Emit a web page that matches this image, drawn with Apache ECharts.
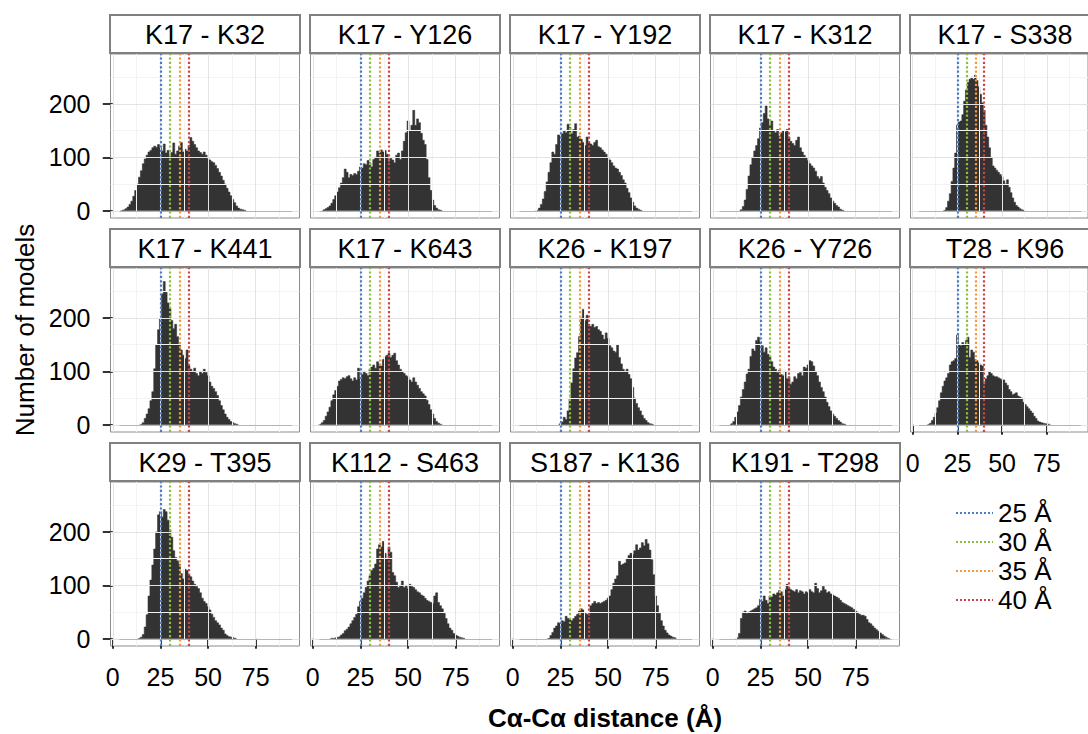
<!DOCTYPE html>
<html><head><meta charset="utf-8">
<script src="https://cdn.jsdelivr.net/npm/echarts@6/dist/echarts.min.js"></script>
<style>html,body{margin:0;padding:0;background:#fff}#c{width:1088px;height:734px}</style>
</head><body><div id="c"></div>
<script>
const FONT = '"Liberation Sans", Arial, Helvetica, sans-serif';

// ---------------- data ----------------
const panelTitles = ['K17 - K32','K17 - Y126','K17 - Y192','K17 - K312','K17 - S338',
  'K17 - K441','K17 - K643','K26 - K197','K26 - Y726','T28 - K96',
  'K29 - T395','K112 - S463','S187 - K136','K191 - T298'];
// centre (Å) of the first listed 1-Å bin for every panel
const firstBin = [5,6,13,15,18,15,4,25,10,9,14,10,19,13];

const countsK17_K32 = [1,2,4,7,12,18,27,38,50,63,75,88,97,104,110,113,118,121,119,124,118,112,125,108,113,101,109,127,106,112,121,128,110,115,112,122,137,130,124,118,112,109,106,110,104,98,95,92,90,85,79,72,65,57,50,42,35,28,21,15,9,5,3,2,1];
const countsK17_Y126 = [2,4,6,9,14,21,28,35,43,52,62,78,72,62,68,66,70,68,74,82,80,88,86,94,90,82,96,100,112,108,114,110,113,106,92,98,95,90,104,108,96,112,130,146,168,150,160,188,160,172,165,145,132,124,96,62,38,20,10,5,2,1];
const countsK17_Y192 = [1,5,12,22,36,54,72,90,110,106,124,142,140,144,150,146,162,156,144,152,163,138,140,134,128,122,138,128,125,122,128,132,120,118,114,110,106,100,95,90,84,80,78,72,66,58,52,42,34,24,16,9,5,3,1];
const countsK17_K312 = [2,8,20,40,65,86,100,112,122,135,155,165,182,196,172,160,168,150,146,152,140,146,150,148,152,138,130,126,122,132,138,118,110,104,100,94,88,84,80,74,64,60,64,52,44,38,32,24,18,14,10,7,3,1];
const countsK17_S338 = [1,6,18,32,55,80,108,160,166,168,180,205,226,240,246,250,246,254,244,232,218,202,188,160,138,118,100,84,80,76,72,68,64,56,50,58,44,34,24,16,10,7,4,2,1];
const countsK17_K441 = [1,4,12,20,30,45,62,105,150,178,198,245,268,248,228,218,195,180,188,165,150,140,130,124,140,110,104,100,106,96,92,100,96,104,98,92,80,72,68,62,55,45,36,28,20,14,10,6,4,2,1];
const countsK17_K643 = [1,4,8,16,24,33,45,56,64,72,82,85,88,86,90,92,86,82,88,84,106,86,94,100,96,92,104,108,112,106,118,114,110,122,128,130,134,126,130,134,120,112,104,100,96,92,90,84,80,88,80,74,68,62,58,54,46,38,28,20,12,6,3,1];
const countsK26_K197 = [2,5,14,10,26,50,78,105,125,135,165,200,216,195,205,188,184,188,182,184,178,175,168,160,172,162,148,144,138,136,150,126,114,104,100,104,94,86,70,50,40,32,26,18,12,8,4,2,1];
const countsK26_Y726 = [2,6,14,24,36,52,66,80,95,104,128,142,138,158,164,156,148,136,144,132,128,118,108,104,98,102,94,92,100,86,90,76,80,90,86,96,98,92,108,106,112,120,118,110,100,92,80,70,62,52,42,34,26,20,16,12,8,5,2,1];
const countsT28_K96 = [1,3,8,14,22,32,45,60,72,82,88,96,112,118,120,124,168,150,148,154,150,158,164,126,140,136,122,120,116,112,110,76,86,92,100,96,92,90,90,88,86,84,84,78,74,66,62,56,58,60,54,52,50,42,38,34,30,26,22,16,12,7,5,4,3,2,2,1];
const countsK29_T395 = [1,3,8,22,45,80,110,138,168,200,232,238,228,242,238,222,204,190,165,152,146,140,122,112,130,128,120,116,108,102,98,94,86,76,70,66,60,54,46,40,34,30,26,20,16,9,6,4,3,2,1];
const countsK112_S463 = [1,1,2,3,4,7,10,15,18,22,28,34,40,46,60,70,76,86,96,108,118,128,132,140,168,176,172,182,160,150,172,162,124,118,106,96,100,108,96,100,94,102,98,96,92,88,86,82,80,76,72,70,68,66,80,86,68,62,56,48,38,28,20,16,10,7,5,3,2,1];
const countsS187_K136 = [1,6,12,20,24,30,28,34,32,42,38,36,34,38,42,46,52,56,54,48,46,44,62,66,70,66,68,66,68,70,72,76,80,92,104,112,118,145,138,140,142,150,156,160,158,165,176,166,170,180,174,186,178,166,148,120,80,62,48,34,24,16,11,7,5,3,2];
const countsK191_T298 = [2,10,38,50,52,48,50,52,54,56,58,62,74,70,80,72,66,80,78,84,82,86,90,88,80,92,102,96,92,90,88,92,86,90,88,84,88,86,92,88,86,104,94,86,90,98,92,86,88,84,82,80,78,76,72,68,66,64,62,60,58,55,52,50,46,44,44,42,36,30,28,24,20,17,14,11,8,5,3,1];

const panelCounts = [countsK17_K32,countsK17_Y126,countsK17_Y192,countsK17_K312,countsK17_S338,
  countsK17_K441,countsK17_K643,countsK26_K197,countsK26_Y726,countsT28_K96,
  countsK29_T395,countsK112_S463,countsS187_K136,countsK191_T298];

const thresholds = [25, 30, 35, 40];
const thresholdNames = ['25 Å', '30 Å', '35 Å', '40 Å'];
const xTicks = [0, 25, 50, 75];
const xMinorTicks = [12.5, 37.5, 62.5, 87.5];
const yTicks = [0, 100, 200];
const yMinorTicks = [50, 150, 250];
const xRange = [-1.2, 98];
const yRange = [-13.5, 293.5];
const binWidth = 1;
const baselineRange = [3.5, 94];

// ---------------- style / layout ----------------
const thresholdColors = ['#4a7cc3', '#8cbf3f', '#f59a3a', '#cc4444'];
const NCOL = 5, PANEL_W = 189, PANEL_H = 164, COL_STEP = 200, ROW_STEP = 214;
const LEFT0 = 110.5, STRIP_TOP0 = 15, STRIP_H = 38;
const MAJOR = '#e3e3e3', MINOR = '#f3f3f3';

const grids = [], xAxes = [], yAxes = [], series = [], graphics = [];

panelTitles.forEach((title, i) => {
  const r = Math.floor(i / NCOL), c = i % NCOL;
  const left = LEFT0 + c * COL_STEP;
  const stripTop = STRIP_TOP0 + r * ROW_STEP;
  const top = stripTop + STRIP_H + 1;
  const showX = (r === 2) || (i === 9);
  const showY = (c === 0);
  grids.push({left, top, width: PANEL_W, height: PANEL_H, show: true,
    borderColor: '#8c8c8c', borderWidth: 1, backgroundColor: '#fff'});
  xAxes.push({gridIndex: i, type: 'value', min: xRange[0], max: xRange[1],
    splitLine: {show: false}, axisLine: {show: false},
    axisTick: {show: showX, length: 10, customValues: xTicks, lineStyle: {color: '#333', width: 2}},
    axisLabel: {show: showX, customValues: xTicks, fontSize: 25, color: '#000', fontFamily: FONT, margin: 18}});
  yAxes.push({gridIndex: i, type: 'value', min: yRange[0], max: yRange[1],
    splitLine: {show: false}, axisLine: {show: false},
    axisTick: {show: showY, length: 10, customValues: yTicks, lineStyle: {color: '#333', width: 2}},
    axisLabel: {show: showY, customValues: yTicks, fontSize: 25, color: '#000', fontFamily: FONT, margin: 20}});

  const gl = [];
  xMinorTicks.forEach(v => gl.push({xAxis: v, lineStyle: {color: MINOR, width: 1, type: 'solid'}}));
  yMinorTicks.forEach(v => gl.push({yAxis: v, lineStyle: {color: MINOR, width: 1, type: 'solid'}}));
  xTicks.forEach(v => gl.push({xAxis: v, lineStyle: {color: MAJOR, width: 1, type: 'solid'}}));
  yTicks.forEach(v => gl.push({yAxis: v, lineStyle: {color: MAJOR, width: 1, type: 'solid'}}));
  gl.push([{coord: [baselineRange[0], 0], lineStyle: {color: '#b5b5b5', width: 1, type: 'solid'}},
           {coord: [baselineRange[1], 0]}]);
  series.push({type: 'line', xAxisIndex: i, yAxisIndex: i, data: [], z: 1, silent: true,
    markLine: {silent: true, symbol: ['none', 'none'], label: {show: false}, animation: false,
      emphasis: {disabled: true}, data: gl}});

  // histogram: 1-Å bins drawn as a stepped filled area (zero bins on both sides)
  const counts = panelCounts[i];
  const pts = [[firstBin[i] - binWidth, 0]];
  counts.forEach((n, k) => pts.push([firstBin[i] + k * binWidth, n]));
  pts.push([firstBin[i] + counts.length * binWidth, 0]);
  series.push({type: 'line', xAxisIndex: i, yAxisIndex: i, z: 2, silent: true,
    step: 'middle', symbol: 'none', data: pts,
    lineStyle: {color: '#333333', width: 0.6},
    areaStyle: {color: '#333333', opacity: 1, origin: 0}});

  thresholds.forEach((t, k) => {
    series.push({type: 'line', name: thresholdNames[k], xAxisIndex: i, yAxisIndex: i, data: [], z: 3,
      symbol: 'none', color: thresholdColors[k],
      lineStyle: {color: thresholdColors[k], type: 'dotted', width: 2.2},
      markLine: {silent: true, symbol: ['none', 'none'], label: {show: false}, animation: false,
        emphasis: {disabled: true},
        lineStyle: {color: thresholdColors[k], type: 'dotted', width: 2.2},
        data: [{xAxis: t}]}});
  });

  graphics.push({type: 'rect', shape: {x: left - 0.5, y: stripTop, width: PANEL_W + 1, height: STRIP_H},
    style: {fill: '#fff', stroke: '#808080', lineWidth: 2}, silent: true});
  graphics.push({type: 'text', x: left + PANEL_W / 2, y: stripTop + STRIP_H / 2 + 1, silent: true,
    style: {text: title, fill: '#000', font: '27px ' + FONT, align: 'center', verticalAlign: 'middle',
      textAlign: 'center', textVerticalAlign: 'middle'}});
});

graphics.push({type: 'text', x: 25, y: 330, rotation: Math.PI / 2, silent: true,
  style: {text: 'Number of models', fill: '#000', font: '26px ' + FONT, align: 'center', verticalAlign: 'middle',
    textAlign: 'center', textVerticalAlign: 'middle'}});
graphics.push({type: 'text', x: 605, y: 718, silent: true,
  style: {text: 'Cα-Cα distance (Å)', fill: '#000', font: 'bold 26px ' + FONT, align: 'center', verticalAlign: 'middle',
    textAlign: 'center', textVerticalAlign: 'middle'}});

const chart = echarts.init(document.getElementById('c'), null, {renderer: 'svg'});
chart.setOption({
  animation: false,
  backgroundColor: '#fff',
  grid: grids, xAxis: xAxes, yAxis: yAxes, series,
  legend: {orient: 'vertical', left: 950, top: 495, itemWidth: 37, itemHeight: 14, itemGap: 3,
    data: thresholdNames, selectedMode: false, itemStyle: {opacity: 0},
    textStyle: {fontSize: 26, color: '#000', fontFamily: FONT}},
  graphic: {elements: graphics}
});
</script></body></html>
